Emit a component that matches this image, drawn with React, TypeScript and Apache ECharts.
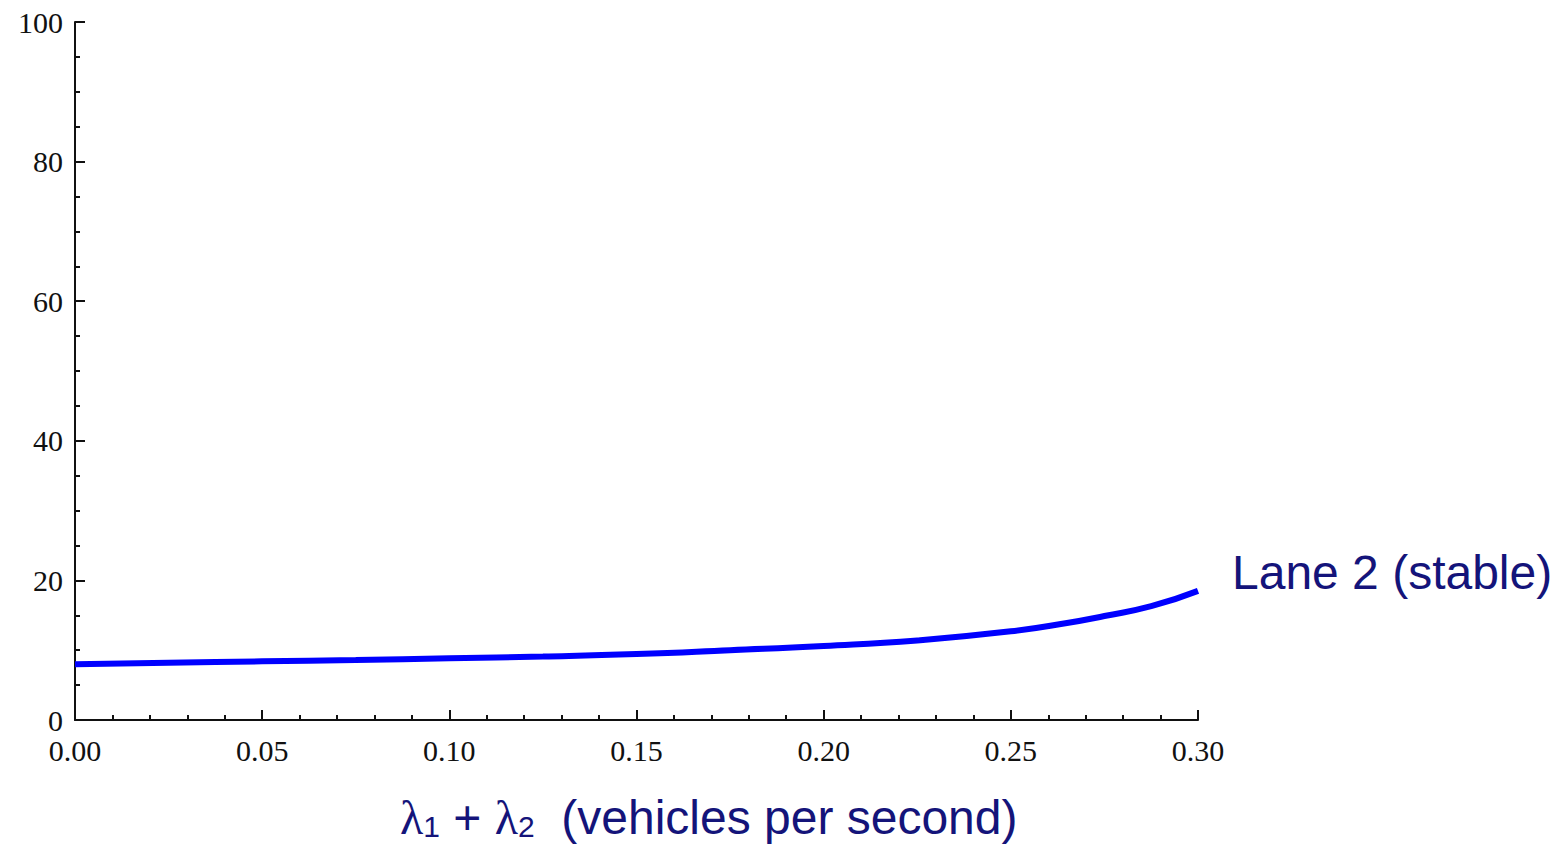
import React, { useEffect, useRef } from "react";
import * as echarts from "echarts";

const xValues = [0, 0.025, 0.05, 0.075, 0.1, 0.125, 0.15, 0.175, 0.2, 0.225, 0.25, 0.265, 0.275, 0.2875, 0.3];
const yValues = [8.0, 8.2, 8.4, 8.6, 8.85, 9.1, 9.45, 10.0, 10.6, 11.4, 12.7, 13.9, 14.9, 16.3, 18.5];
const xTickLabels = ["0.00", "0.05", "0.10", "0.15", "0.20", "0.25", "0.30"];
const seriesLabel = "Lane 2 (stable)";

export default function App() {
  const ref = useRef<HTMLDivElement>(null);
  useEffect(() => {
    if (!ref.current) return;
    const chart = echarts.init(ref.current, undefined, { renderer: "svg" });
    const tickFont = { fontFamily: "Liberation Serif", fontSize: 30, color: "#111", lineHeight: 18 };
    const navy = "#14147a";
    chart.setOption({
      animation: false,
      backgroundColor: "#fff",
      grid: { left: 75, right: 363, top: 22, bottom: 125 },
      xAxis: {
        type: "value",
        min: 0,
        max: 0.3,
        interval: 0.05,
        axisLine: { show: true, lineStyle: { color: "#111", width: 2 } },
        axisTick: { show: true, inside: true, length: 10, lineStyle: { color: "#111", width: 2 } },
        minorTick: { show: true, splitNumber: 5, length: 5, lineStyle: { color: "#111", width: 2 } },
        splitLine: { show: false },
        axisLabel: {
          ...tickFont,
          margin: 21,
          formatter: (v: number) => xTickLabels[Math.round(v / 0.05)] ?? v.toFixed(2),
        },
      },
      yAxis: {
        type: "value",
        min: 0,
        max: 100,
        interval: 20,
        axisLine: { show: true, lineStyle: { color: "#111", width: 2 } },
        axisTick: { show: true, inside: true, length: 10, lineStyle: { color: "#111", width: 2 } },
        minorTick: { show: true, splitNumber: 4, length: 5, lineStyle: { color: "#111", width: 2 } },
        splitLine: { show: false },
        axisLabel: { ...tickFont, margin: 12 },
      },
      series: [
        {
          type: "line",
          data: xValues.map((x, i) => [x, yValues[i]]),
          smooth: true,
          showSymbol: false,
          lineStyle: { color: "#0000ff", width: 6 },
        },
      ],
      graphic: [
        {
          type: "text",
          x: 1232,
          y: 572,
          style: {
            text: seriesLabel,
            font: "48px 'Liberation Sans', Arial, sans-serif",
            fill: navy,
            textAlign: "left",
            textVerticalAlign: "middle",
          },
        },
        {
          type: "text",
          x: 400,
          y: 817,
          style: {
            text: "{g|λ}{s|1}{n| + }{g|λ}{s|2}{n|  (vehicles per second)}",
            textAlign: "left",
            textVerticalAlign: "middle",
            rich: {
              g: { fontFamily: "Liberation Serif", fontSize: 48, lineHeight: 48, fill: navy, color: navy, padding: [0, 0, 9, 0], verticalAlign: "top" },
              s: { fontFamily: "Liberation Sans", fontSize: 30, lineHeight: 30, fill: navy, color: navy, verticalAlign: "bottom" },
              n: { fontFamily: "Liberation Sans", fontSize: 48, lineHeight: 48, fill: navy, color: navy, padding: [0, 0, 9, 0], verticalAlign: "top" },
            },
          },
        },
      ],
    });
    return () => chart.dispose();
  }, []);
  return (
    <div
      ref={ref}
      style={{ position: "fixed", left: 0, top: 0, width: 1561, height: 845, background: "#fff" }}
    />
  );
}
